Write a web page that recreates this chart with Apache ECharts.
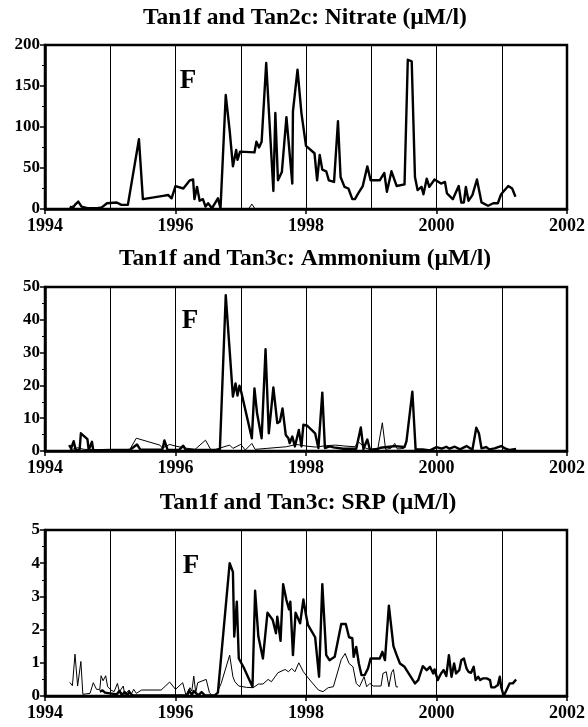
<!DOCTYPE html>
<html>
<head>
<meta charset="utf-8">
<script src="https://cdn.jsdelivr.net/npm/echarts@6/dist/echarts.min.js"></script>
<style>html,body{margin:0;padding:0;background:#fff}#c{width:588px;height:727px}</style>
</head>
<body>
<div id="c"></div>
<script>
// ---------- DATA ----------
const titles = ["Tan1f and Tan2c: Nitrate (\u00b5M/l)", "Tan1f and Tan3c: Ammonium (\u00b5M/l)", "Tan1f and Tan3c: SRP (\u00b5M/l)"];
const panelLabel = "F";
const xMin = 1994, xMax = 2002;
const yMax = [200, 50, 5];
const yStep = [50, 10, 1];

// Nitrate, Tan1f (thick)
const nitrateTan1f = [[1994.38,3],[1994.42,1],[1994.47,6],[1994.51,9],[1994.56,3],[1994.65,1],[1994.80,1],[1994.87,2],[1994.95,7],[1995.10,8],[1995.17,5],[1995.27,5],[1995.44,85],[1995.50,12],[1995.81,16],[1995.89,17],[1995.94,13],[1996.00,28],[1996.12,25],[1996.22,35],[1996.27,36],[1996.29,12],[1996.33,27],[1996.37,10],[1996.42,12],[1996.46,3],[1996.50,7],[1996.56,1],[1996.65,13],[1996.69,1],[1996.77,139],[1996.83,96],[1996.88,52],[1996.93,72],[1996.95,60],[1996.99,70],[1997.21,69],[1997.24,82],[1997.28,75],[1997.32,82],[1997.39,178],[1997.50,22],[1997.53,117],[1997.57,35],[1997.63,45],[1997.70,112],[1997.79,31],[1997.80,119],[1997.87,170],[1997.93,117],[1998.00,77],[1998.13,68],[1998.17,35],[1998.21,66],[1998.25,48],[1998.31,46],[1998.35,35],[1998.43,33],[1998.49,107],[1998.53,39],[1998.59,27],[1998.65,25],[1998.71,12],[1998.75,12],[1998.80,19],[1998.87,28],[1998.94,52],[1998.99,35],[1999.13,35],[1999.20,44],[1999.24,21],[1999.31,46],[1999.39,28],[1999.51,30],[1999.56,182],[1999.62,180],[1999.67,39],[1999.71,23],[1999.77,27],[1999.80,18],[1999.85,37],[1999.89,27],[1999.97,36],[2000.07,31],[2000.13,33],[2000.16,19],[2000.25,12],[2000.34,28],[2000.38,8],[2000.42,8],[2000.45,27],[2000.49,10],[2000.55,17],[2000.62,36],[2000.69,8],[2000.79,4],[2000.87,7],[2000.94,7],[2000.99,18],[2001.10,28],[2001.16,25],[2001.21,15]];
// Nitrate, Tan2c (thin)
const nitrateTan2c = [[1994.38,1],[1994.42,4],[1994.46,0],[1995.00,0],[1996.00,0],[1996.70,0],[1997.12,0],[1997.17,6],[1997.22,0],[1997.50,0]];

// Ammonium, Tan1f (thick)
const ammoniumTan1f = [[1994.37,1.8],[1994.40,0.8],[1994.44,3.0],[1994.47,0.3],[1994.53,0.3],[1994.55,5.4],[1994.65,3.6],[1994.67,0.3],[1994.72,2.8],[1994.74,0.2],[1995.00,0.3],[1995.30,0.3],[1995.41,2.0],[1995.46,0.4],[1995.80,0.5],[1995.83,3.2],[1995.88,0.3],[1996.05,0.3],[1996.12,1.6],[1996.16,0.3],[1996.68,0.3],[1996.77,47.5],[1996.88,16.6],[1996.92,20.6],[1996.95,16.9],[1996.98,19.9],[1997.01,17.8],[1997.17,3.9],[1997.21,19.1],[1997.25,11.5],[1997.28,12],[1997.32,3.9],[1997.38,31],[1997.43,5.4],[1997.50,19.4],[1997.56,8.5],[1997.60,9],[1997.64,13],[1997.69,4.9],[1997.73,3.9],[1997.75,2.4],[1997.79,4.4],[1997.83,1.4],[1997.89,6.4],[1997.93,1.4],[1997.96,8],[1998.02,7.7],[1998.14,5.4],[1998.19,0.9],[1998.25,17.8],[1998.29,0.9],[1998.36,1.4],[1998.42,1.1],[1998.57,0.7],[1998.77,0.7],[1998.84,7.2],[1998.88,0.6],[1998.94,3.5],[1998.98,0.4],[1999.10,0.6],[1999.14,1.0],[1999.28,1.3],[1999.36,1.5],[1999.51,1.2],[1999.54,3],[1999.63,18.1],[1999.68,0.5],[1999.79,0.5],[1999.90,0.2],[2000.00,1.2],[2000.08,0.7],[2000.15,1.3],[2000.20,0.7],[2000.28,1.3],[2000.36,0.5],[2000.46,1.5],[2000.55,0.4],[2000.61,7.1],[2000.65,5.4],[2000.69,0.8],[2000.76,1.2],[2000.81,0.5],[2000.89,0.8],[2000.99,1.5],[2001.05,0.8],[2001.12,0.3],[2001.22,0.6]];
// Ammonium, Tan3c (thin)
const ammoniumTan3c = [[1994.38,0.3],[1994.50,1.0],[1994.60,0.5],[1994.80,0.4],[1995.00,0.2],[1995.30,0.5],[1995.40,3.9],[1995.76,1.8],[1995.80,0.9],[1995.91,2.0],[1996.00,1.5],[1996.15,0.9],[1996.30,0.5],[1996.46,3.3],[1996.55,0.1],[1996.83,1.8],[1996.88,0.8],[1997.00,2.0],[1997.07,0.3],[1997.17,2.3],[1997.22,0.5],[1997.40,0.8],[1997.70,1.3],[1997.85,2.0],[1998.00,1.5],[1998.15,1.2],[1998.30,1.6],[1998.45,1.8],[1998.60,1.5],[1998.75,1.3],[1998.80,2.9],[1998.90,1.0],[1999.00,0.3],[1999.10,0.6],[1999.17,8.6],[1999.22,0.5],[1999.30,0.8],[1999.36,2.3],[1999.40,0.6],[1999.50,0.8]];

// SRP, Tan1f (thick)
const srpTan1f = [[1994.84,0.13],[1994.88,0.17],[1994.92,0.1],[1994.95,0.05],[1995.10,0.05],[1995.14,0.15],[1995.18,0.03],[1995.22,0.12],[1995.26,0.02],[1995.29,0.12],[1995.34,0.02],[1996.18,0.02],[1996.21,0.17],[1996.25,0.03],[1996.28,0.15],[1996.35,0.02],[1996.40,0.12],[1996.45,0.02],[1996.60,0.02],[1996.65,0.1],[1996.83,4.0],[1996.88,3.74],[1996.90,1.79],[1996.94,2.84],[1996.97,1.13],[1997.04,0.88],[1997.18,0.28],[1997.22,3.17],[1997.27,1.79],[1997.34,1.13],[1997.41,2.51],[1997.49,2.29],[1997.54,1.89],[1997.56,2.39],[1997.61,1.66],[1997.65,3.37],[1997.70,2.89],[1997.74,2.61],[1997.76,2.84],[1997.80,1.23],[1997.84,2.51],[1997.91,2.19],[1997.96,2.91],[1998.00,2.44],[1998.03,2.14],[1998.14,1.77],[1998.20,0.58],[1998.25,3.37],[1998.31,1.23],[1998.36,1.08],[1998.44,1.18],[1998.54,2.17],[1998.61,2.17],[1998.66,1.77],[1998.71,1.74],[1998.73,1.18],[1998.77,1.48],[1998.81,0.98],[1998.85,0.63],[1998.90,0.63],[1998.95,0.83],[1998.99,1.13],[1999.13,1.13],[1999.17,1.33],[1999.21,1.08],[1999.27,2.72],[1999.34,1.5],[1999.39,1.23],[1999.44,0.98],[1999.51,0.88],[1999.67,0.38],[1999.72,0.48],[1999.79,0.9],[1999.85,0.78],[1999.90,0.88],[1999.95,0.68],[1999.97,0.8],[2000.02,0.48],[2000.07,0.68],[2000.11,0.78],[2000.15,0.6],[2000.19,1.23],[2000.23,0.58],[2000.27,0.98],[2000.30,0.68],[2000.35,0.78],[2000.38,1.08],[2000.42,1.13],[2000.46,0.83],[2000.49,0.73],[2000.53,0.7],[2000.57,0.88],[2000.60,0.48],[2000.64,0.58],[2000.67,0.48],[2000.71,0.53],[2000.77,0.53],[2000.82,0.48],[2000.84,0.26],[2000.89,0.26],[2000.94,0.33],[2000.97,0.58],[2000.99,0.28],[2001.03,0.0],[2001.12,0.38],[2001.17,0.38],[2001.22,0.5]];
// SRP, Tan3c (thin)
const srpTan3c = [[1994.38,0.41],[1994.42,0.31],[1994.46,1.26],[1994.50,0.3],[1994.52,0.25],[1994.55,1.04],[1994.58,0.05],[1994.69,0.08],[1994.74,0.4],[1994.79,0.2],[1994.84,0.2],[1994.86,0.61],[1994.89,0.46],[1994.93,0.61],[1994.96,0.28],[1995.01,0.18],[1995.06,0.13],[1995.08,0.08],[1995.11,0.38],[1995.14,0.13],[1995.20,0.3],[1995.22,0.05],[1995.29,0.18],[1995.32,0.05],[1995.36,0.2],[1995.40,0.08],[1995.48,0.18],[1995.78,0.18],[1995.91,0.42],[1996.00,0.2],[1996.11,0.4],[1996.16,0.03],[1996.22,0.25],[1996.25,0.15],[1996.28,0.6],[1996.31,0.1],[1996.34,0.4],[1996.47,0.5],[1996.52,0.1],[1996.57,0.0],[1996.62,0.03],[1996.70,0.38],[1996.83,1.23],[1996.88,0.58],[1996.91,0.43],[1996.94,0.48],[1996.97,0.3],[1997.09,0.26],[1997.19,0.25],[1997.27,0.36],[1997.34,0.36],[1997.42,0.5],[1997.47,0.43],[1997.57,0.7],[1997.68,0.8],[1997.73,0.73],[1997.78,0.83],[1997.83,0.73],[1997.89,1.0],[1997.96,0.73],[1998.06,0.48],[1998.19,0.18],[1998.26,0.13],[1998.34,0.25],[1998.42,0.28],[1998.54,1.1],[1998.60,1.28],[1998.66,0.98],[1998.72,0.88],[1998.77,0.38],[1998.82,0.28],[1998.89,0.58],[1998.93,0.28],[1998.98,0.38],[1999.03,0.3],[1999.15,0.3],[1999.18,0.68],[1999.23,0.73],[1999.27,0.28],[1999.31,0.7],[1999.34,0.8],[1999.38,0.28],[1999.41,0.27]];

const thickSeries = [nitrateTan1f, ammoniumTan1f, srpTan1f];
const thinSeries = [nitrateTan2c, ammoniumTan3c, srpTan3c];

// ---------- LAYOUT ----------
const FONT = '"Liberation Serif","Times New Roman",serif';
const grids = [
  {left: 45, width: 522, top: 45, height: 164},
  {left: 45, width: 522, top: 287, height: 164},
  {left: 45, width: 522, top: 530, height: 166}
];
const titlePos = [[305, 18], [305, 259], [308, 503]];
const fPos = [[188, 81], [190, 321], [191, 566]];

const chart = echarts.init(document.getElementById('c'), null, {renderer: 'canvas'});
const option = {
  backgroundColor: '#fff',
  animation: false,
  grid: grids.map(g => Object.assign({show: true, borderColor: '#000', borderWidth: 2.5, backgroundColor: 'transparent'}, g)),
  xAxis: grids.map((g, i) => ({
    type: 'value', gridIndex: i, min: xMin, max: xMax, interval: 2,
    axisLine: {show: true, onZero: false, lineStyle: {color: '#000', width: 2.5}},
    axisTick: {show: true, inside: false, length: 5, lineStyle: {color: '#000', width: 1.5}},
    minorTick: {show: false, splitNumber: 2},
    splitLine: {show: true, lineStyle: {color: '#000', width: 1}},
    minorSplitLine: {show: true, lineStyle: {color: '#000', width: 1}},
    axisLabel: {color: '#000', fontFamily: FONT, fontWeight: 'bold', fontSize: 18, margin: 8, formatter: v => String(v)}
  })),
  yAxis: grids.map((g, i) => ({
    type: 'value', gridIndex: i, min: 0, max: yMax[i], interval: yStep[i],
    axisLine: {show: true, onZero: false, lineStyle: {color: '#000', width: 2.5}},
    axisTick: {show: true, inside: false, length: 5, lineStyle: {color: '#000', width: 1.5}},
    minorTick: {show: true, splitNumber: 2, length: 3, lineStyle: {color: '#000', width: 1}},
    splitLine: {show: false},
    axisLabel: {color: '#000', fontFamily: FONT, fontWeight: 'bold', fontSize: 17, margin: 5}
  })),
  series: [].concat(
    thinSeries.map((d, i) => ({
      type: 'line', xAxisIndex: i, yAxisIndex: i, data: d, showSymbol: false, symbol: 'none',
      lineStyle: {color: '#000', width: 1}, z: 2, clip: true
    })),
    thickSeries.map((d, i) => ({
      type: 'line', xAxisIndex: i, yAxisIndex: i, data: d, showSymbol: false, symbol: 'none',
      lineStyle: {color: '#000', width: 2.4, join: 'round'}, z: 3, clip: true
    }))
  ),
  graphic: [].concat(
    titles.map((t, i) => ({
      type: 'text', silent: true,
      style: {x: titlePos[i][0], y: titlePos[i][1], text: t, align: 'center', verticalAlign: 'middle',
        font: 'bold 23.5px ' + FONT, fill: '#000'}
    })),
    fPos.map(p => ({
      type: 'text', silent: true,
      style: {x: p[0], y: p[1], text: panelLabel, align: 'center', verticalAlign: 'middle',
        font: 'bold 27px ' + FONT, fill: '#000'}
    }))
  )
};
chart.setOption(option);
</script>
</body>
</html>
